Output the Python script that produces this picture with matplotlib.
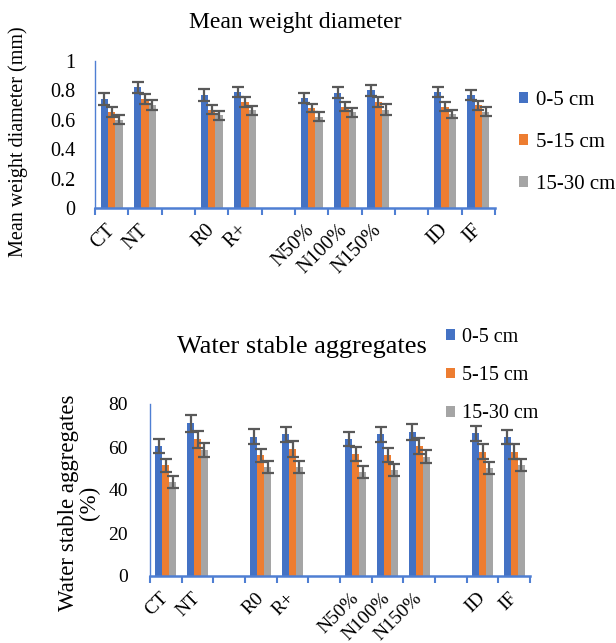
import numpy as np
import matplotlib
matplotlib.use("Agg")
import matplotlib.pyplot as plt
from matplotlib.ticker import FixedLocator

plt.rcParams["font.family"] = ["Liberation Serif", "DejaVu Serif"]

# categories (empty strings are the gaps between treatment groups)
categories = ["CT", "NT", "", "R0", "R+", "", "N50%", "N100%", "N150%", "", "ID", "IF"]
depths = ["0-5 cm", "5-15 cm", "15-30 cm"]

# mean weight diameter (mm)
mwd_0_5 = [0.74, 0.82, None, 0.77, 0.79, None, 0.75, 0.785, 0.80, None, 0.79, 0.77]
mwd_5_15 = [0.655, 0.74, None, 0.67, 0.72, None, 0.68, 0.69, 0.72, None, 0.69, 0.70]
mwd_15_30 = [0.60, 0.70, None, 0.63, 0.665, None, 0.62, 0.65, 0.67, None, 0.64, 0.655]
mwd_err_0_5 = [0.04, 0.04, None, 0.04, 0.035, None, 0.035, 0.04, 0.04, None, 0.035, 0.035]
mwd_err_5_15 = [0.035, 0.035, None, 0.03, 0.035, None, 0.03, 0.03, 0.035, None, 0.03, 0.03]
mwd_err_15_30 = [0.03, 0.035, None, 0.03, 0.03, None, 0.03, 0.03, 0.035, None, 0.03, 0.03]

# water stable aggregates (%)
wsa_0_5 = [60.5, 71.0, None, 64.8, 65.9, None, 63.6, 65.9, 67.0, None, 66.4, 64.8]
wsa_5_15 = [51.6, 63.6, None, 56.1, 59.0, None, 56.7, 56.3, 60.5, None, 57.8, 57.8]
wsa_15_30 = [43.9, 58.6, None, 50.6, 50.6, None, 48.5, 49.3, 55.5, None, 50.1, 51.6]
wsa_err_0_5 = [3.1, 3.9, None, 3.6, 3.6, None, 3.3, 3.6, 3.6, None, 3.6, 3.3]
wsa_err_5_15 = [3.0, 4.0, None, 3.1, 3.6, None, 3.3, 3.3, 3.6, None, 3.6, 3.6]
wsa_err_15_30 = [2.8, 3.1, None, 2.8, 2.8, None, 2.8, 2.8, 3.1, None, 2.8, 2.8]

colors = ["#4472C4", "#ED7D31", "#A5A5A5"]
axis_color = "#4F7FD3"
err_color = "#595959"


def draw_panel(ax, series, errors, ymax, ystep, yfmt, ypad, tick_fs):
    x = np.arange(len(categories)) + 0.5
    width = 0.22
    handles = []
    for k, (vals, errs) in enumerate(zip(series, errors)):
        idx = [i for i, v in enumerate(vals) if v is not None]
        xs = x[idx] + (k - 1) * width
        ys = [vals[i] for i in idx]
        es = [errs[i] for i in idx]
        b = ax.bar(xs, ys, width, color=colors[k], label=depths[k], zorder=2)
        ax.errorbar(xs, ys, yerr=es, fmt="none", ecolor=err_color,
                    elinewidth=1.6, capsize=4, capthick=1.6, zorder=3)
        handles.append(b)

    ax.set_xlim(0, len(categories))
    ax.set_ylim(0, ymax)
    for s in ["top", "right"]:
        ax.spines[s].set_visible(False)
    ax.spines["left"].set_color(axis_color)
    ax.spines["left"].set_linewidth(1.0)
    ax.spines["bottom"].set_color(axis_color)
    ax.spines["bottom"].set_linewidth(1.8)

    # boundaries get tick marks, centres get the labels
    ax.xaxis.set_major_locator(FixedLocator(np.arange(len(categories) + 1)))
    ax.xaxis.set_minor_locator(FixedLocator(x))
    ax.set_xticklabels([], minor=False)
    ax.set_xticklabels(categories, minor=True, rotation=45, ha="right",
                       va="center", rotation_mode="anchor", fontsize=tick_fs)
    ax.tick_params(axis="x", which="major", length=5, width=1.5, color=axis_color)
    ax.tick_params(axis="x", which="minor", length=0, pad=14)

    yt = np.arange(0, ymax + ystep / 2, ystep)
    ax.set_yticks(yt)
    ax.set_yticklabels([yfmt(v) for v in yt], fontsize=tick_fs)
    ax.tick_params(axis="y", length=0, pad=ypad)
    return handles


fig = plt.figure(figsize=(6.16, 6.43), dpi=100)

ax1 = fig.add_axes([95 / 616, 1 - 208 / 643, 400 / 616, 147 / 643])
h1 = draw_panel(ax1, [mwd_0_5, mwd_5_15, mwd_15_30],
                [mwd_err_0_5, mwd_err_5_15, mwd_err_15_30],
                1.0, 0.2, lambda v: "%g" % round(v, 1), 14, 14.5)
fig.text(295 / 616, 1 - 28 / 643, "Mean weight diameter", fontsize=17,
         ha="center", va="baseline")
fig.text(18 / 616, 1 - 142 / 643, "Mean weight diameter (mm)", fontsize=14.5,
         rotation=90, ha="center", va="center")
fig.legend(handles=h1, labels=depths, loc="upper left",
           bbox_to_anchor=(519 / 616, 1 - 91 / 643), frameon=False,
           fontsize=15, handlelength=0.45, handleheight=0.45,
           handletextpad=0.35, labelspacing=1.1, borderpad=0, borderaxespad=0)

ax2 = fig.add_axes([150 / 616, 1 - 576 / 643, 380 / 616, 172 / 643])
h2 = draw_panel(ax2, [wsa_0_5, wsa_5_15, wsa_15_30],
                [wsa_err_0_5, wsa_err_5_15, wsa_err_15_30],
                80, 20, lambda v: "%d" % v, 16, 14)
fig.text(302 / 616, 1 - 353 / 643, "Water stable aggregates", fontsize=19,
         ha="center", va="baseline")
fig.text(79 / 616, 1 - 503 / 643, "Water stable aggregates\n(%)", fontsize=16.5,
         rotation=90, ha="center", va="center", multialignment="center",
         linespacing=1.0)
fig.legend(handles=h2, labels=depths, loc="upper left",
           bbox_to_anchor=(446 / 616, 1 - 328 / 643), frameon=False,
           fontsize=14.5, handlelength=0.45, handleheight=0.45,
           handletextpad=0.35, labelspacing=0.95, borderpad=0, borderaxespad=0)

fig.savefig("out.png", dpi=100)
